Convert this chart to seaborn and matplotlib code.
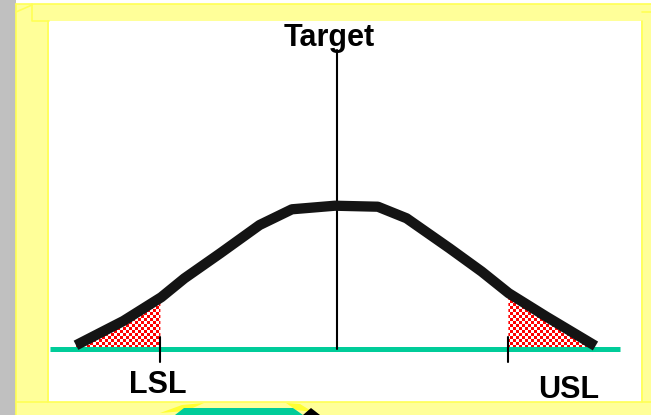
import numpy as np
import matplotlib
matplotlib.use("Agg")
import matplotlib.pyplot as plt
import seaborn as sns
from matplotlib.patches import Rectangle, Polygon
from matplotlib.lines import Line2D
from matplotlib.path import Path

# Process distribution curve (x in sigma units, y relative height)
curve_x = [-3.00, -2.455, -2.02, -1.754, -1.343, -0.890, -0.518, -0.024,
           0.470, 0.800, 1.294, 1.664, 1.974, 2.407, 2.971]
curve_y = [0.026, 0.196, 0.362, 0.494, 0.669, 0.867, 0.977, 1.002,
           0.995, 0.914, 0.704, 0.541, 0.390, 0.226, 0.021]

# Specification limits and target
target = 0.0
lsl = -2.03
usl = 1.97
spec_labels = ["LSL", "USL"]
target_label = "Target"

W, H = 651, 415
PX_X, ORIGIN_X = 87.0, 337.0     # pixels per unit, target position
PX_Y, ORIGIN_Y = 143.0, 349.0    # pixels per unit, baseline position

sns.set_style("white")
plt.rcParams["font.family"] = ["Liberation Sans", "DejaVu Sans"]

fig = plt.figure(figsize=(W / 100, H / 100), dpi=100)
fig.patch.set_facecolor("white")
ax = fig.add_axes([0, 0, 1, 1])
xlim = (-ORIGIN_X / PX_X, (W - ORIGIN_X) / PX_X)
ylim = ((ORIGIN_Y - H) / PX_Y, ORIGIN_Y / PX_Y)
ax.axis("off")


# ---- slide frame (figure pixel coordinates, origin top-left) ----
def rect(x0, y0, x1, y1, fc, ec="none", lw=0.0, z=-5):
    fig.patches.append(Rectangle((x0 / W, 1 - y1 / H), (x1 - x0) / W, (y1 - y0) / H,
                                 transform=fig.transFigure, facecolor=fc,
                                 edgecolor=ec, lw=lw, zorder=z))


def poly(pts, fc, z=-4):
    fig.patches.append(Polygon([(x / W, 1 - y / H) for x, y in pts], closed=True,
                               transform=fig.transFigure, facecolor=fc,
                               edgecolor="none", zorder=z))


def seg(pts, color="#ffff55", lw=1.2, z=-3):
    xs = [p[0] / W for p in pts]
    ys = [1 - p[1] / H for p in pts]
    fig.lines.append(Line2D(xs, ys, transform=fig.transFigure, color=color,
                            lw=lw, zorder=z))


rect(0, 0, 16, H, "#c0c0c0")
rect(16, 4, W, H, "#ffff99")
rect(49, 21, 641, 402, "white", z=-4.5)
seg([(16, 4), (W, 4)])
seg([(16, 4), (16, H)])
seg([(16, 12), (32, 5)])
seg([(32, 4), (32, 21), (49, 21)])
seg([(48, 21), (48, 402)])
seg([(16, 402), (W, 402)])
seg([(642, 21), (642, 402)])
seg([(642, 12), (W, 12)])

# fragment of an arrow peeking in at the bottom edge
poly([(160, 413), (182, 405), (204, 403), (186, 411)], "#ffff33")
poly([(286, 403), (300, 404), (313, 412), (296, 410)], "#ffff33")
poly([(175, 415), (184, 408), (293, 408), (303, 415)], "#00cc99", z=-3.5)
poly([(303, 415), (311, 408), (320, 415)], "black", z=-3.5)

# ---- chart ----
cx = np.array(curve_x)
cy = np.array(curve_y)

# tail regions outside the specification limits, checkered red
left_x = np.concatenate([cx[cx < lsl], [lsl]])
right_x = np.concatenate([[usl], cx[cx > usl]])
paths = []
for tx in (left_x, right_x):
    ty = np.interp(tx, cx, cy)
    pc = ax.fill_between(tx, ty, 0, facecolor="none", edgecolor="none")
    paths.extend(pc.get_paths())
clip = Path.make_compound_path(*paths)
yy, xx = np.mgrid[0:H, 0:W]
img = np.ones((H, W, 3))
img[((yy // 3 + xx // 3) % 2) == 0] = [1.0, 0.0, 0.0]
im = ax.imshow(img, extent=(xlim[0], xlim[1], ylim[0], ylim[1]), aspect="auto",
               interpolation="nearest", zorder=2)
im.set_clip_path(clip, ax.transData)

# baseline
ax.plot([(50 - ORIGIN_X) / PX_X, (620 - ORIGIN_X) / PX_X], [0, 0],
        color="#00cc99", lw=3.6, solid_capstyle="butt", zorder=3)

# target line and spec-limit ticks
ax.plot([target, target], [0, (ORIGIN_Y - 50) / PX_Y], color="black", lw=1.5,
        zorder=4)
for lim in (lsl, usl):
    ax.plot([lim, lim], [(ORIGIN_Y - 337) / PX_Y, (ORIGIN_Y - 362) / PX_Y],
            color="black", lw=1.5, zorder=4)

sns.lineplot(x=cx, y=cy, sort=False, estimator=None, color="#141414", lw=7.4,
             solid_capstyle="butt", solid_joinstyle="round", ax=ax, zorder=5)

txt = dict(ha="center", va="center", fontsize=22, fontweight="bold", color="black")
ax.text((329 - ORIGIN_X) / PX_X, (ORIGIN_Y - 38) / PX_Y, target_label, **txt)
ax.text((158 - ORIGIN_X) / PX_X, (ORIGIN_Y - 385) / PX_Y, spec_labels[0], **txt)
ax.text((569 - ORIGIN_X) / PX_X, (ORIGIN_Y - 390) / PX_Y, spec_labels[1], **txt)

ax.set_xlim(*xlim)
ax.set_ylim(*ylim)
ax.axis("off")

fig.savefig("out.png", dpi=100, facecolor=fig.get_facecolor())
